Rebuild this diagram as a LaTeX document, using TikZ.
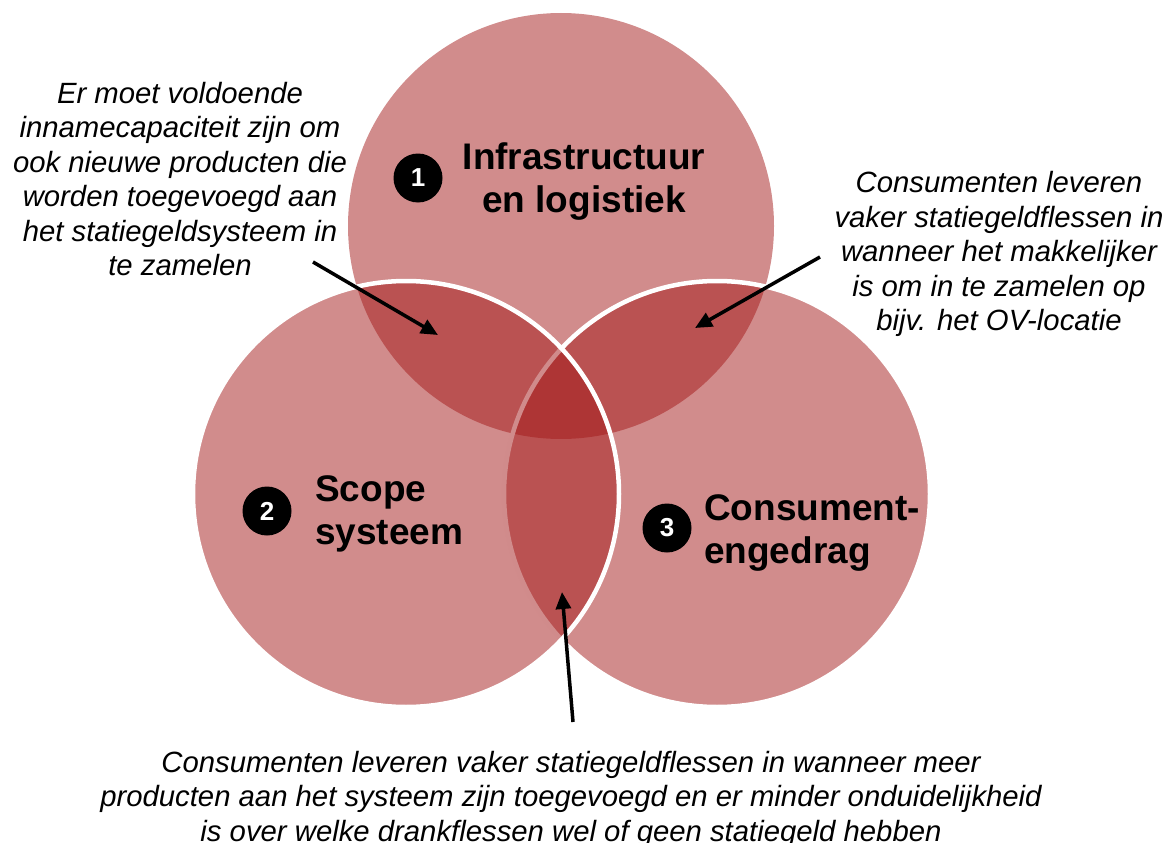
\documentclass[tikz,border=0pt]{standalone}
\usepackage{fontspec}
\setmainfont{Liberation Sans}
\usepackage{xcolor}
\usetikzlibrary{arrows.meta, positioning}
\definecolor{vennRed}{RGB}{163,25,25}
\def\circleRadius{213}

\begin{document}
\begin{tikzpicture}[x=1pt, y=-1pt,
    venn/.style={fill=vennRed, fill opacity=0.5},
    vennLine/.style={draw=white, line width=4.5pt},
    badge/.style={circle, fill=black, text=white, minimum size=49pt, inner sep=0pt, font=\fontsize{26}{26}\selectfont\bfseries},
    topic/.style={inner sep=0pt, font=\fontsize{37}{43}\selectfont\bfseries},
    note/.style={inner sep=0pt, align=center, font=\fontsize{29.3}{34.5}\selectfont\itshape},
    pointer/.style={-{Triangle[length=17pt, width=15pt]}, line width=3.5pt}]
    \useasboundingbox (0,0) rectangle (1171,843);

    % Draw circles
    \coordinate (topCentre) at (561,226);
    \coordinate (leftCentre) at (406,494);
    \coordinate (rightCentre) at (717,494);
    \fill[venn] (topCentre) circle (\circleRadius pt);
    \path[venn, vennLine] (rightCentre) circle (\circleRadius pt);
    \path[venn, vennLine] (leftCentre) circle (\circleRadius pt);

    % Draw labels
    \node[topic, align=center] (infra) at (584,182) {Infrastructuur\\en logistiek};
    \node[topic, align=left, anchor=west] (scope) at (315,514) {Scope\\systeem};
    \node[topic, align=left, anchor=west] (gedrag) at (704,533) {Consument-\\engedrag};
    \node[badge] (badgeOne) at (418,178) {1};
    \node[badge] (badgeTwo) at (267,511) {2};
    \node[badge] (badgeThree) at (667,528) {3};

    % Notes and pointers
    \node[note] (noteLeft) at (180,179) {Er moet voldoende\\innamecapaciteit zijn om\\ook nieuwe producten die\\worden toegevoegd aan\\het statiegeldsysteem in\\te zamelen};
    \node[note] (noteRight) at (999,254) {Consumenten leveren\\vaker statiegeldflessen in\\wanneer het makkelijker\\is om in te zamelen op\\bijv. het OV-locatie};
    \node[note] (noteBottom) at (571,799) {Consumenten leveren vaker statiegeldflessen in wanneer meer\\producten aan het systeem zijn toegevoegd en er minder onduidelijkheid\\is over welke drankflessen wel of geen statiegeld hebben};

    \coordinate (tailLeft) at (313,262);
    \coordinate (tailRight) at (820,257);
    \coordinate (tailBottom) at (573,722);
    \coordinate (lensLeft) at (438,335);
    \coordinate (lensRight) at (695,328);
    \coordinate (lensBottom) at (562,592);
    \draw[pointer] (tailLeft) -- (lensLeft);
    \draw[pointer] (tailRight) -- (lensRight);
    \draw[pointer] (tailBottom) -- (lensBottom);
\end{tikzpicture}
\end{document}
